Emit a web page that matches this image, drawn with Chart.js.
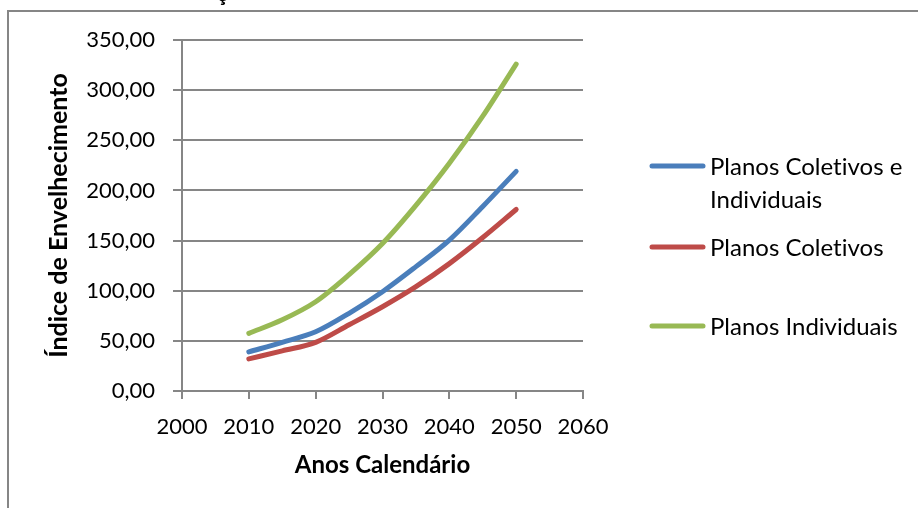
<!DOCTYPE html>
<html>
<head>
<meta charset="utf-8">
<script src="https://cdn.jsdelivr.net/npm/chart.js@4"></script>
<style>
html,body{margin:0;padding:0;background:#fff;}
#wrap{position:relative;width:918px;height:508px;}
</style>
</head>
<body>
<div id="wrap"><canvas id="grafico" width="918" height="508"></canvas></div>
<script>

/* dados */
var anos = [2010, 2015, 2020, 2025, 2030, 2035, 2040, 2045, 2050];
var coletivosIndividuais = [39, 48.5, 59, 77.5, 99, 124, 150.5, 184, 219];
var coletivos = [32, 40, 48.5, 66, 84, 104, 127, 153, 181];
var individuais = [57.5, 71, 89, 116, 147, 185, 227, 274, 326];

var nomes = ['Planos Coletivos e Individuais', 'Planos Coletivos', 'Planos Individuais'];
var cores = ['#4a7ebb', '#be4b48', '#98b954'];

var ticksX = [2000, 2010, 2020, 2030, 2040, 2050, 2060];
var ticksY = [0, 50, 100, 150, 200, 250, 300, 350];

var fonte = 'Lato, "Open Sans", sans-serif';
var cinza = '#868686';
var zwnj = '\u200C'; // evita a ligadura "ti" da Lato

function pontos(vals){
  return anos.map(function(a, i){ return {x: a, y: vals[i]}; });
}

function serie(i, vals){
  return {
    label: nomes[i],
    data: pontos(vals),
    borderColor: cores[i],
    backgroundColor: cores[i],
    borderWidth: 5,
    borderCapStyle: 'round',
    borderJoinStyle: 'round',
    pointRadius: 0,
    cubicInterpolationMode: 'monotone',
    fill: false
  };
}

/* moldura, fragmento do título e legenda */
var extras = {
  id: 'extras',
  beforeDraw: function(chart){
    var c = chart.ctx;
    c.save();
    c.fillStyle = '#fff';
    c.fillRect(0, 0, chart.width, chart.height);
    c.strokeStyle = cinza;
    c.lineWidth = 2;
    c.beginPath();
    c.moveTo(8, 508);
    c.lineTo(8, 11);
    c.lineTo(918, 11);
    c.stroke();
    c.fillStyle = '#000';
    c.font = 'bold 22px ' + fonte;
    c.textAlign = 'center';
    c.textBaseline = 'alphabetic';
    c.fillText('ç', 222, 0.5);
    c.restore();
  },
  afterDraw: function(chart){
    var c = chart.ctx;
    var itens = [
      {y: 166, linhas: ['Planos Colet' + zwnj + 'ivos e', 'Individuais']},
      {y: 247, linhas: ['Planos Colet' + zwnj + 'ivos']},
      {y: 326, linhas: ['Planos Individuais']}
    ];
    c.save();
    c.font = '24px ' + fonte;
    c.textAlign = 'left';
    c.textBaseline = 'middle';
    itens.forEach(function(it, i){
      c.strokeStyle = cores[i];
      c.lineWidth = 5;
      c.lineCap = 'round';
      c.beginPath();
      c.moveTo(652, it.y);
      c.lineTo(703, it.y);
      c.stroke();
      c.fillStyle = '#000';
      it.linhas.forEach(function(t, k){
        c.fillText(t, 710, it.y + 1 + k * 33);
      });
    });
    c.restore();
  }
};

new Chart(document.getElementById('grafico'), {
  type: 'line',
  data: {
    datasets: [
      serie(0, coletivosIndividuais),
      serie(1, coletivos),
      serie(2, individuais)
    ]
  },
  options: {
    responsive: false,
    animation: false,
    layout: {padding: {left: 44, right: 335, top: 40, bottom: 28}},
    plugins: {legend: {display: false}, tooltip: {enabled: false}},
    scales: {
      x: {
        type: 'linear',
        min: 2000,
        max: 2060,
        afterBuildTicks: function(s){ s.ticks = ticksX.map(function(v){ return {value: v}; }); },
        afterFit: function(s){ s.height = 89; },
        grid: {display: true, drawOnChartArea: false, drawTicks: true, tickLength: 8, color: cinza, lineWidth: 2},
        border: {display: true, color: cinza, width: 2},
        ticks: {
          color: '#000',
          font: {family: fonte, size: 22},
          padding: 15,
          maxRotation: 0,
          callback: function(v){ return String(v); }
        },
        title: {
          display: true,
          text: 'Anos Calendário',
          color: '#000',
          font: {family: fonte, size: 24, weight: 'bold'},
          padding: {top: 0, bottom: 0}
        }
      },
      y: {
        min: 0,
        max: 350,
        afterBuildTicks: function(s){ s.ticks = ticksY.map(function(v){ return {value: v}; }); },
        afterFit: function(s){ s.width = 138; },
        grid: {color: cinza, lineWidth: 2, tickLength: 9},
        border: {display: true, color: cinza, width: 2},
        ticks: {
          color: '#000',
          font: {family: fonte, size: 22},
          padding: 18,
          callback: function(v){ return v.toFixed(2).replace('.', ','); }
        },
        title: {
          display: true,
          text: 'Índice de Envelhecimento',
          color: '#000',
          font: {family: fonte, size: 25, weight: 'bold'},
          padding: {top: 0, bottom: 0}
        }
      }
    }
  },
  plugins: [extras]
});
</script>
</body>
</html>
